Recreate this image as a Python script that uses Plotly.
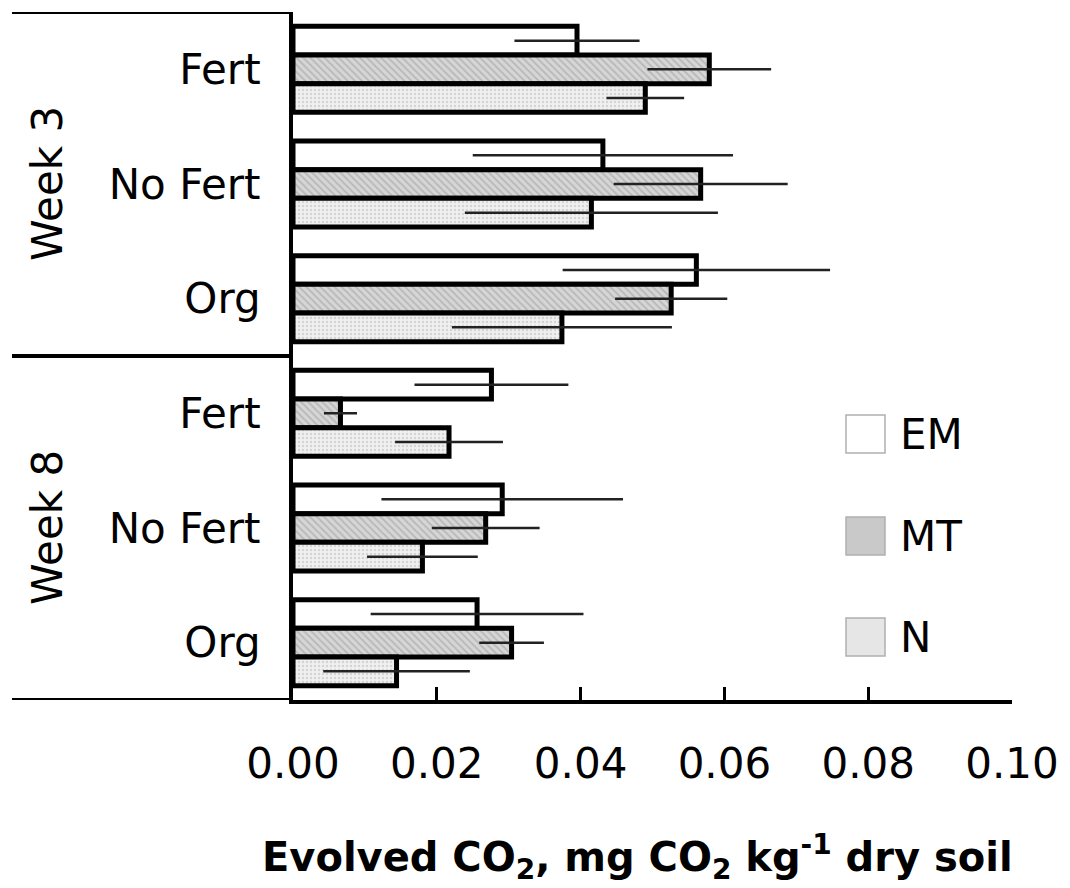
import plotly.graph_objects as go

weeks = ["Week 3", "Week 8"]
treatments = ["Fert", "No Fert", "Org"]
categories = [f"{w} | {t}" for w in weeks for t in treatments]
tick_labels = treatments * 2

series_names = ["EM", "MT", "N"]
em = [0.0395, 0.0431, 0.0561, 0.0276, 0.0291, 0.0256]
em_err = [0.0087, 0.0181, 0.0186, 0.0107, 0.0168, 0.0148]
mt = [0.0579, 0.0567, 0.0526, 0.0066, 0.0268, 0.0304]
mt_err = [0.0086, 0.0121, 0.0078, 0.0023, 0.0075, 0.0045]
n = [0.0490, 0.0415, 0.0374, 0.0217, 0.0180, 0.0144]
n_err = [0.0054, 0.0176, 0.0153, 0.0075, 0.0077, 0.0102]

x_ticks = [0.00, 0.02, 0.04, 0.06, 0.08, 0.10]

FONT = "DejaVu Sans"
OFF = 8  # page body margin

# plot area in screenshot pixels
PL, PR, PT, PB = 293, 1012, 12, 700
W, H = 1070, 888


def px(xs):
    return (xs - PL) / (PR - PL)


def py(ys):
    return (PB - ys) / (PB - PT)


styles = {
    "EM": dict(color="white", pattern=dict(shape=""), swatch="white"),
    "MT": dict(color="#d6d6d6", pattern=dict(shape="\\", fgcolor="#9a9a9a", size=5, solidity=0.35),
               swatch="#c9c9c9"),
    "N": dict(color="#f0f0f0", pattern=dict(shape=".", fgcolor="#b8b8b8", size=4, solidity=0.3),
              swatch="#e6e6e6"),
}

fig = go.Figure()
for name, vals, errs in [("EM", em, em_err), ("MT", mt, mt_err), ("N", n, n_err)]:
    st = styles[name]
    fig.add_trace(go.Bar(
        name=name, y=categories, x=vals, orientation="h",
        marker=dict(color=st["color"], pattern=st["pattern"],
                    line=dict(color="black", width=5)),
        error_x=dict(type="data", array=errs, color="#222222", thickness=2.5, width=0),
        showlegend=False,
    ))

fig.update_layout(
    width=W, height=H,
    margin=dict(l=PL - OFF, r=W - (PR - OFF), t=PT - OFF, b=H - (PB - OFF)),
    paper_bgcolor="white", plot_bgcolor="white",
    barmode="group", bargap=0.25, bargroupgap=0,
    font=dict(family=FONT, color="black", size=42),
    showlegend=False,
)

fig.update_xaxes(
    range=[0, 0.1], tickvals=x_ticks, ticktext=[f"{v:.2f}" for v in x_ticks],
    showgrid=False, zeroline=False, showline=True, linecolor="black", linewidth=4,
    ticks="inside", ticklen=13, tickwidth=3, tickcolor="black",
    ticklabelstandoff=24, tickfont=dict(size=42, family=FONT),
)
fig.update_yaxes(
    type="category", categoryorder="array", categoryarray=categories,
    range=[5.5, -0.5], tickvals=categories, ticktext=tick_labels,
    showgrid=False, zeroline=False, showline=True, linecolor="black", linewidth=4,
    ticks="", ticklabelstandoff=20, tickfont=dict(size=42, family=FONT),
)

# left table lines
left = px(12)
for yy in [-0.5, 2.5, 5.5]:
    fig.add_shape(type="line", xref="paper", yref="y", x0=left, x1=0, y0=yy, y1=yy,
                  line=dict(color="black", width=4))

# week labels
for i, w in enumerate(weeks):
    fig.add_annotation(text=w, xref="paper", yref="y", x=px(47),
                       y=categories[i * 3 + 1], textangle=-90, showarrow=False,
                       font=dict(size=42, family=FONT), xanchor="center", yanchor="middle")

# axis title
fig.add_annotation(
    text="<b>Evolved CO<sub>2</sub>, mg CO<sub>2</sub> kg<sup>-1</sup> dry soil</b>",
    xref="paper", yref="paper", x=px(637), y=py(857),
    showarrow=False, font=dict(size=40, family=FONT), xanchor="center", yanchor="middle",
)

# legend (drawn manually for large swatches)
legend_centers = [434, 536, 637]
for name, yc in zip(series_names, legend_centers):
    fig.add_shape(type="rect", xref="paper", yref="paper",
                  x0=px(846), x1=px(885), y0=py(yc - 19), y1=py(yc + 19),
                  fillcolor=styles[name]["swatch"], line=dict(color="#b0b0b0", width=1.5))
    fig.add_annotation(text=name, xref="paper", yref="paper", x=px(898), y=py(yc),
                       showarrow=False, xanchor="left", yanchor="middle",
                       font=dict(size=42, family=FONT))

fig.write_html("out.html")
